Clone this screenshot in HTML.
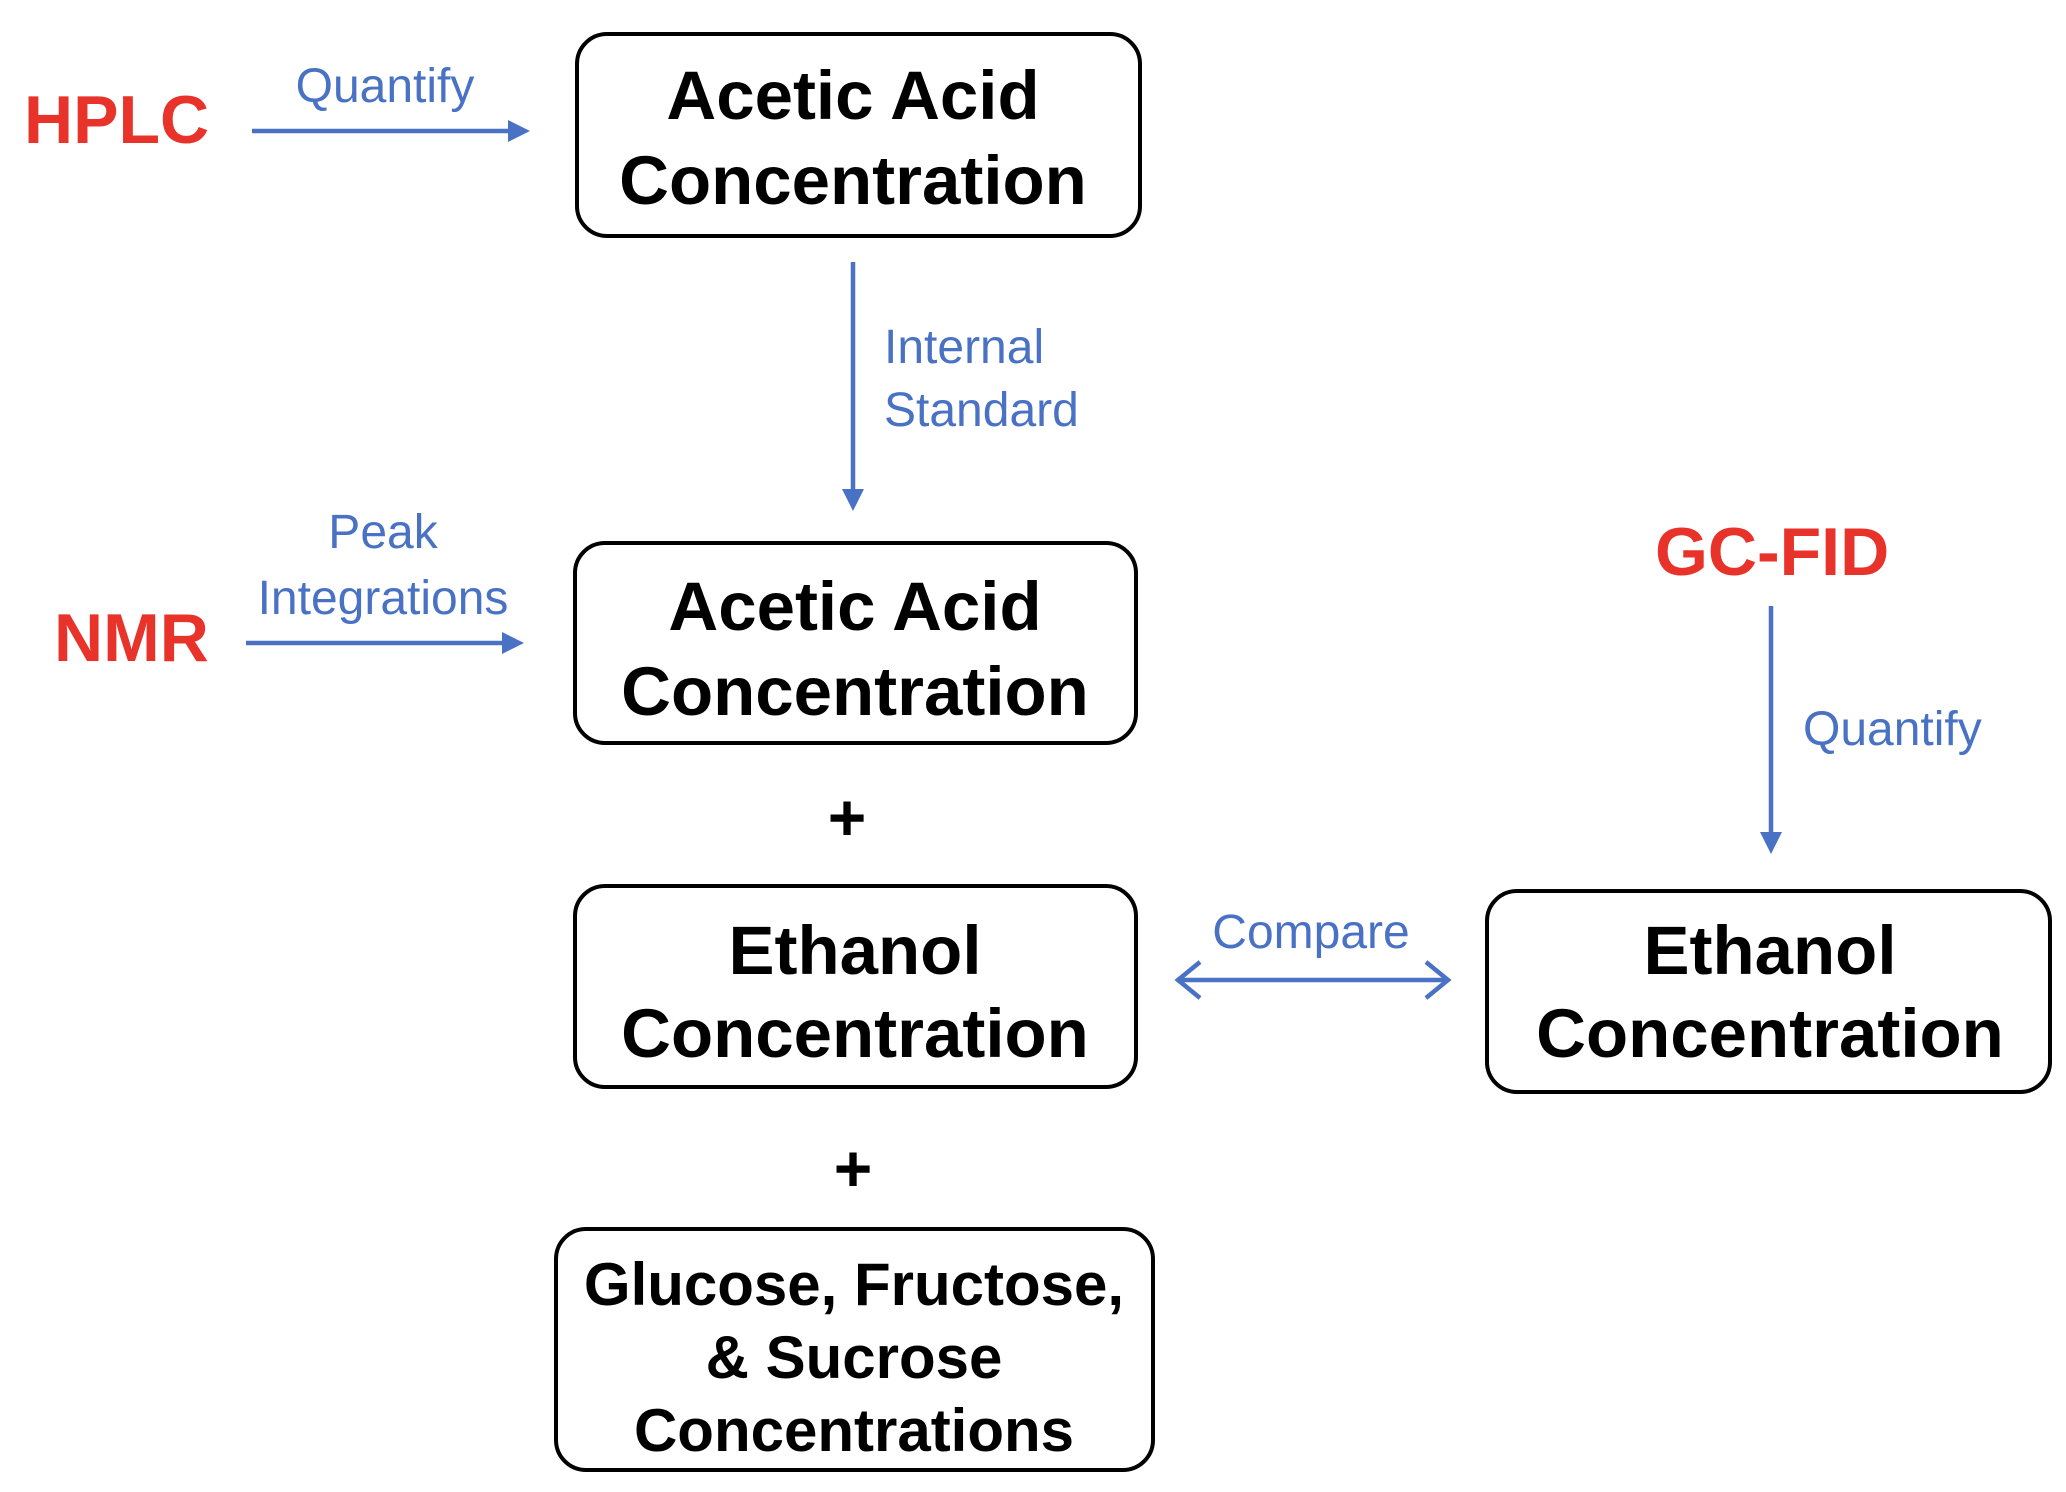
<!DOCTYPE html>
<html><head><meta charset="utf-8"><style>
html,body{margin:0;padding:0;background:#fff;}
svg{display:block}
.b{font-family:"Liberation Sans",Arial,sans-serif;font-weight:bold;fill:#000;text-anchor:middle}
.r{font-family:"Liberation Sans",Arial,sans-serif;font-weight:bold;fill:#e8332a}
.l{font-family:"Liberation Sans",Arial,sans-serif;fill:#4a72c4;font-size:48px}
</style></head><body>
<svg width="2066" height="1492" viewBox="0 0 2066 1492" xmlns="http://www.w3.org/2000/svg">
<g fill="#fff" stroke="#000" stroke-width="4">
<rect x="577" y="34" width="563" height="202" rx="30"/>
<rect x="575" y="543" width="561" height="200" rx="30"/>
<rect x="575" y="886" width="561" height="201" rx="30"/>
<rect x="556" y="1229" width="597" height="241" rx="30"/>
<rect x="1487" y="891" width="563" height="201" rx="30"/>
</g>
<g class="b" font-size="69">
<text x="853" y="119">Acetic Acid</text>
<text x="853" y="204">Concentration</text>
<text x="855" y="630">Acetic Acid</text>
<text x="855" y="715">Concentration</text>
<text x="855" y="974">Ethanol</text>
<text x="855" y="1057">Concentration</text>
<text x="1770" y="974">Ethanol</text>
<text x="1770" y="1057">Concentration</text>
</g>
<g class="b" font-size="60">
<text x="854" y="1305">Glucose, Fructose,</text>
<text x="854" y="1378">&amp; Sucrose</text>
<text x="854" y="1451">Concentrations</text>
</g>
<g class="b" font-size="66">
<text x="847" y="840">+</text>
<text x="853" y="1191">+</text>
</g>
<text class="r" x="24" y="143" font-size="68">HPLC</text>
<text class="r" x="54" y="661" font-size="68">NMR</text>
<text class="r" x="1655" y="575" font-size="68">GC-FID</text>
<g stroke="#4a72c4" stroke-width="4.5" fill="none">
<line x1="252" y1="131" x2="512" y2="131"/>
<line x1="246" y1="643" x2="506" y2="643"/>
<line x1="853" y1="262" x2="853" y2="494"/>
<line x1="1771" y1="606" x2="1771" y2="836"/>
<line x1="1180" y1="980" x2="1446" y2="980"/>
<polyline points="1200,962 1178,980 1200,998"/>
<polyline points="1426,962 1448,980 1426,998"/>
</g>
<g fill="#4a72c4">
<path d="M508,120 L530,131 L508,142 Z"/>
<path d="M502,632 L524,643 L502,654 Z"/>
<path d="M842,489 L853,511 L864,489 Z"/>
<path d="M1760,832 L1771,854 L1782,832 Z"/>
</g>
<text class="l" x="385" y="102" text-anchor="middle">Quantify</text>
<text class="l" x="884" y="363">Internal</text>
<text class="l" x="884" y="426">Standard</text>
<text class="l" x="383" y="548" text-anchor="middle">Peak</text>
<text class="l" x="383" y="614" text-anchor="middle">Integrations</text>
<text class="l" x="1803" y="745">Quantify</text>
<text class="l" x="1311" y="948" text-anchor="middle">Compare</text>
</svg>
</body></html>
